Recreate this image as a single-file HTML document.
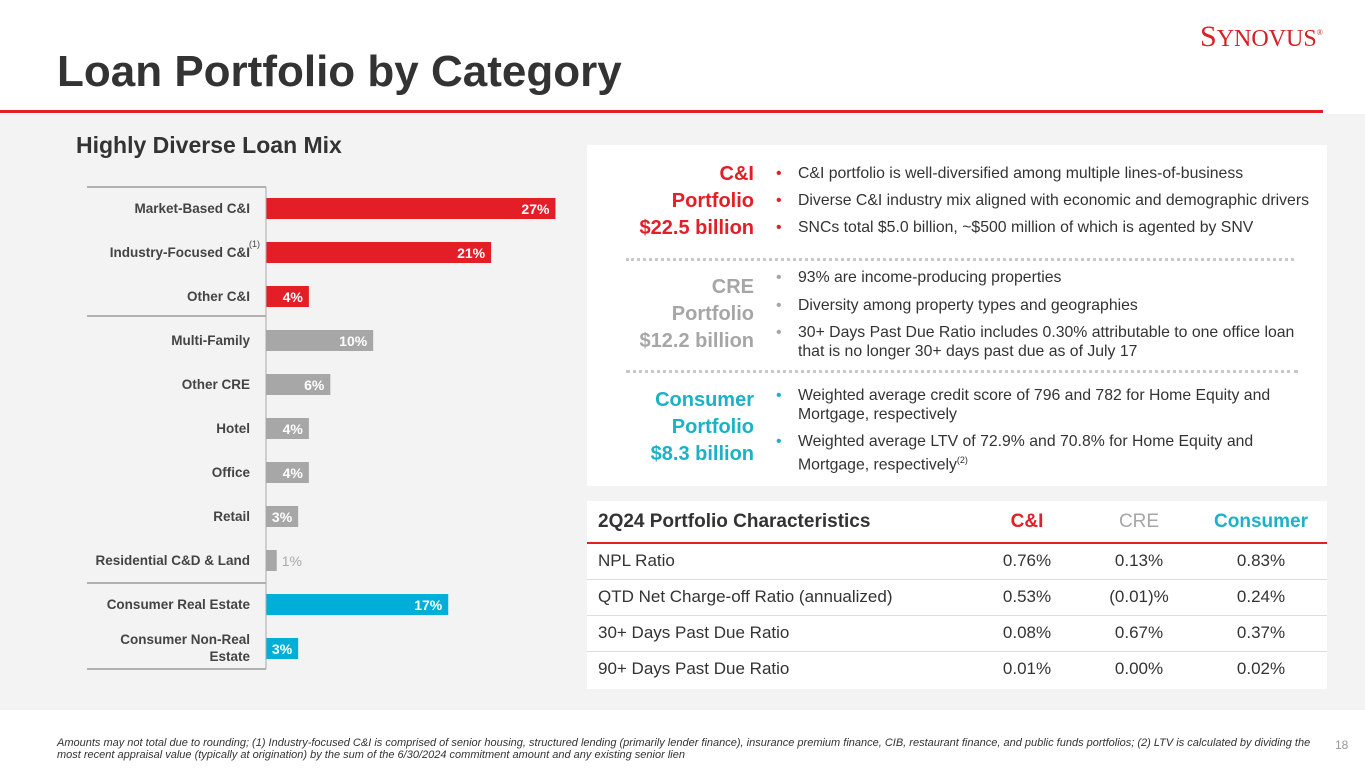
<!DOCTYPE html>
<html><head><meta charset="utf-8">
<style>
body{margin:0;width:1365px;height:768px;overflow:hidden;background:#fff;font-family:"Liberation Sans",sans-serif;position:relative}
.abs{position:absolute}
#band{left:0;top:114px;width:1365px;height:596px;background:#f3f3f3}
.panel{background:#fff}
.lbl{font-size:20px;line-height:27px;text-align:right;font-weight:bold}
.bul{font-size:15.8px;color:#333;line-height:19px}
.dot{position:absolute;left:-22px;font-size:16px}
.dots{border-top:3px dotted #c8c8c8}
td{font-size:17px;color:#333}
</style></head><body>
<div class="abs" style="left:57px;top:44px;font-size:44px;font-weight:bold;line-height:56px;color:#333">Loan Portfolio by Category</div>
<div class="abs" style="left:1200px;top:20px;font-family:'Liberation Serif',serif;font-size:30px;color:#d71f26">S<span style="font-size:24px">YNOVUS</span><sup style="font-size:8px">®</sup></div>
<div class="abs" style="left:0;top:110px;width:1323px;height:3px;background:#e31e26"></div>
<div id="band" class="abs"></div>
<div class="abs" style="left:76px;top:132px;font-size:23px;font-weight:bold;color:#333">Highly Diverse Loan Mix</div>
<svg class="abs" style="left:0;top:0" width="600" height="700" id="chart"></svg>

<div class="abs panel" style="left:587px;top:145px;width:740px;height:341px"></div>
<div class="abs lbl" style="left:580px;top:161px;width:174px;color:#e31e26">C&amp;I<br>Portfolio<br>$22.5 billion</div>
<div class="abs bul" style="left:798px;top:164px;width:530px">
<div style="position:relative;height:27px"><span class="dot" style="color:#e31e26">•</span>C&amp;I portfolio is well-diversified among multiple lines-of-business</div>
<div style="position:relative;height:27px"><span class="dot" style="color:#e31e26">•</span>Diverse C&amp;I industry mix aligned with economic and demographic drivers</div>
<div style="position:relative;height:27px"><span class="dot" style="color:#e31e26">•</span>SNCs total $5.0 billion, ~$500 million of which is agented by SNV</div></div>
<div class="abs dots" style="left:626px;top:258px;width:668px"></div>
<div class="abs lbl" style="left:580px;top:274px;width:174px;color:#a6a6a6">CRE<br>Portfolio<br>$12.2 billion</div>
<div class="abs bul" style="left:798px;top:268px;width:522px">
<div style="position:relative;height:28px"><span class="dot" style="color:#a6a6a6">•</span>93% are income-producing properties</div>
<div style="position:relative;height:27px"><span class="dot" style="color:#a6a6a6">•</span>Diversity among property types and geographies</div>
<div style="position:relative"><span class="dot" style="color:#a6a6a6">•</span>30+ Days Past Due Ratio includes 0.30% attributable to one office loan that is no longer 30+ days past due as of July 17</div></div>
<div class="abs dots" style="left:626px;top:370px;width:672px"></div>
<div class="abs lbl" style="left:580px;top:387px;width:174px;color:#1bb2c8">Consumer<br>Portfolio<br>$8.3 billion</div>
<div class="abs bul" style="left:798px;top:386px;width:500px">
<div style="position:relative;height:46px"><span class="dot" style="color:#1bb2c8">•</span>Weighted average credit score of 796 and 782 for Home Equity and Mortgage, respectively</div>
<div style="position:relative"><span class="dot" style="color:#1bb2c8">•</span>Weighted average LTV of 72.9% and 70.8% for Home Equity and Mortgage, respectively<sup style="font-size:9px">(2)</sup></div></div>

<div class="abs panel" style="left:587px;top:501px;width:740px;height:188px">
<table style="border-collapse:collapse;width:740px">
<tr style="height:42px;border-bottom:2px solid #e31e26"><td style="padding-left:11px;font-size:19px;font-weight:bold">2Q24 Portfolio Characteristics</td><td style="text-align:center;width:110px;font-size:19px;font-weight:bold;color:#e31e26">C&amp;I</td><td style="text-align:center;width:110px;font-size:19px;color:#a6a6a6">CRE</td><td style="text-align:center;width:130px;font-size:19px;color:#1bb2c8;font-weight:bold">Consumer</td></tr>
<tr style="height:36px;border-bottom:1px solid #ddd"><td style="padding-left:11px">NPL Ratio</td><td style="text-align:center">0.76%</td><td style="text-align:center">0.13%</td><td style="text-align:center">0.83%</td></tr>
<tr style="height:36px;border-bottom:1px solid #ddd"><td style="padding-left:11px">QTD Net Charge-off Ratio (annualized)</td><td style="text-align:center">0.53%</td><td style="text-align:center">(0.01)%</td><td style="text-align:center">0.24%</td></tr>
<tr style="height:36px;border-bottom:1px solid #ddd"><td style="padding-left:11px">30+ Days Past Due Ratio</td><td style="text-align:center">0.08%</td><td style="text-align:center">0.67%</td><td style="text-align:center">0.37%</td></tr>
<tr style="height:36px"><td style="padding-left:11px">90+ Days Past Due Ratio</td><td style="text-align:center">0.01%</td><td style="text-align:center">0.00%</td><td style="text-align:center">0.02%</td></tr>
</table></div>

<div class="abs" style="left:57px;top:737px;width:1265px;font-size:11px;font-style:italic;color:#333;line-height:12px">Amounts may not total due to rounding; (1) Industry-focused C&amp;I is  comprised of senior housing, structured lending (primarily lender finance), insurance premium finance, CIB, restaurant finance, and public funds portfolios; (2) LTV is calculated by dividing the most recent appraisal value (typically at origination) by the sum of the 6/30/2024 commitment amount and any existing senior lien</div>
<div class="abs" style="left:1335px;top:738px;font-size:12px;color:#999">18</div>

<script>
const categories=["Market-Based C&I","Industry-Focused C&I","Other C&I","Multi-Family","Other CRE","Hotel","Office","Retail","Residential C&D & Land","Consumer Real Estate","Consumer Non-Real Estate"];
const values=[27,21,4,10,6,4,4,3,1,17,3];
const groups=["ci","ci","ci","cre","cre","cre","cre","cre","cre","con","con"];
const colors={ci:"#e31e26",cre:"#a7a7a7",con:"#00afd7"};
const NS="http://www.w3.org/2000/svg";
const svg=document.getElementById('chart');
const x0=266,xs=10.72,y0=198,step=44,bh=21;
const xScale=v=>v*xs;
const yScale=i=>y0+i*step;
function mk(t,a){const e=document.createElementNS(NS,t);for(const k in a)e.setAttribute(k,a[k]);svg.appendChild(e);return e;}
categories.forEach((c,i)=>{
 const y=yScale(i),w=xScale(values[i]);
 const r=mk('rect',{x:x0,y:y,width:w,height:bh,fill:colors[groups[i]]});
 
 
 const inside=w>25;
 const vt=mk('text',{x:inside?x0+w-6:x0+w+5,y:y+16,'font-size':14,'font-weight':inside?'bold':'normal','text-anchor':inside?'end':'start',fill:inside?'#fff':'#aaa','font-family':'Liberation Sans'});
 vt.textContent=values[i]+'%';
 
 
 const lines=c==="Consumer Non-Real Estate"?["Consumer Non-Real","Estate"]:[c];
 lines.forEach((ln,j)=>{
  const t=mk('text',{x:250,y:y+15+(lines.length>1?(j*17-9):0),'font-size':13.5,'font-weight':'bold','text-anchor':'end',fill:'#444','font-family':'Liberation Sans'});
  t.textContent=ln;
  
  
 });
});
const sup=mk('text',{x:249,y:247,'font-size':9,fill:'#444','font-family':'Liberation Sans'});sup.textContent='(1)';
[187,316,583,669].forEach(y=>{const l=mk('line',{x1:87,x2:x0,y1:y,y2:y,stroke:'#999','stroke-width':1.5});});
const ax=mk('line',{x1:x0,x2:x0,y1:187,y2:669,stroke:'#aaa','stroke-width':1});


</script>
</body></html>
